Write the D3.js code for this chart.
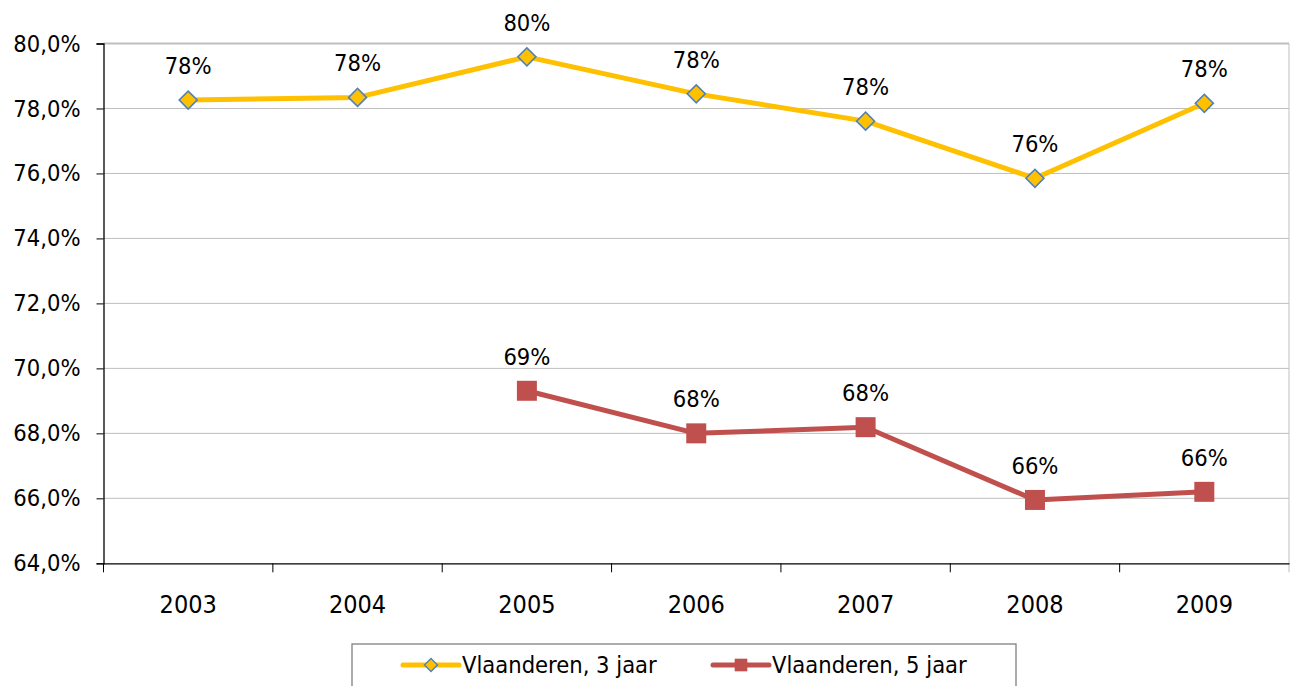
<!DOCTYPE html>
<html lang="nl">
<head>
    <meta charset="UTF-8" />
    <title>Vlaanderen, 3 en 5 jaar</title>
    <script src="https://d3js.org/d3.v7.min.js"></script>
    <style>
        body { margin: 0; background: #fff; }
        svg text { font-family: "DejaVu Sans Condensed", "DejaVu Sans", Verdana, sans-serif; font-stretch: condensed; fill: #000; }
    </style>
</head>
<body>
<svg id="chart" width="1290" height="686"></svg>
<script>
    // data
    const years = ["2003", "2004", "2005", "2006", "2007", "2008", "2009"];
    const drieJaar = [78.26, 78.34, 79.59, 78.45, 77.61, 75.85, 78.16];
    const vijfJaar = [null, null, 69.31, 68.00, 68.19, 65.95, 66.20];
    const yTicks = [64, 66, 68, 70, 72, 74, 76, 78, 80];
    const seriesNames = ["Vlaanderen, 3 jaar", "Vlaanderen, 5 jaar"];

    const plot = { left: 103.5, right: 1289, top: 43.5, bottom: 563.3 };
    const fontSize = 23.5;

    const svg = d3.select("#chart");
    const nl = d3.formatLocale({ decimal: ",", thousands: ".", grouping: [3], currency: ["€", ""] });

    const x = d3.scaleBand().domain(years).range([plot.left, plot.right]).padding(0);
    const y = d3.scaleLinear().domain([64, 80]).range([plot.bottom, plot.top]);
    const cx = d => x(d) + x.bandwidth() / 2;

    // gridlines
    svg.append("g")
        .selectAll("line")
        .data(yTicks.filter(t => t > 64))
        .join("line")
        .attr("x1", plot.left).attr("x2", plot.right)
        .attr("y1", d => y(d)).attr("y2", d => y(d))
        .attr("stroke", "#BFBFBF")
        .attr("stroke-width", d => d === 80 ? 2 : 1);

    // right border of plot area
    svg.append("line")
        .attr("x1", plot.right).attr("x2", plot.right)
        .attr("y1", plot.top).attr("y2", plot.bottom + 9)
        .attr("stroke", "#BFBFBF");

    // y axis
    const yAxis = svg.append("g")
        .attr("transform", `translate(${plot.left},0)`)
        .call(d3.axisLeft(y).tickValues(yTicks).tickSize(7).tickPadding(16).tickFormat(d => nl.format(".1f")(d) + "%"));
    yAxis.select(".domain").attr("stroke", "#000").attr("stroke-width", 1.3);
    yAxis.selectAll(".tick line").attr("stroke", "#000");
    yAxis.selectAll(".tick text").style("font-size", fontSize + "px").attr("font-family", null);

    // x axis
    const xAxis = svg.append("g")
        .attr("transform", `translate(0,${plot.bottom})`)
        .call(d3.axisBottom(x).tickSize(0).tickPadding(32));
    xAxis.select(".domain").attr("stroke", "#000").attr("stroke-width", 1.3);
    xAxis.selectAll(".tick text").style("font-size", "25px").attr("font-family", null);
    // tick marks between categories
    xAxis.selectAll(".sep")
        .data(years.slice(1))
        .join("line")
        .attr("class", "sep")
        .attr("x1", d => x(d)).attr("x2", d => x(d))
        .attr("y1", 0).attr("y2", 9)
        .attr("stroke", "#000");
    xAxis.append("line")
        .attr("x1", plot.left).attr("x2", plot.left)
        .attr("y1", 0).attr("y2", 9)
        .attr("stroke", "#000");

    const line = d3.line()
        .defined(d => d.v !== null)
        .x(d => cx(d.year))
        .y(d => y(d.v));

    const yellow = years.map((year, i) => ({ year, v: drieJaar[i] }));
    const red = years.map((year, i) => ({ year, v: vijfJaar[i] })).filter(d => d.v !== null);

    // lines
    svg.append("path").datum(yellow)
        .attr("d", line).attr("fill", "none")
        .attr("stroke", "#FFC000").attr("stroke-width", 5).attr("stroke-linejoin", "round");
    svg.append("path").datum(red)
        .attr("d", line).attr("fill", "none")
        .attr("stroke", "#C0504D").attr("stroke-width", 5).attr("stroke-linejoin", "round");

    const diamond = d3.symbol(d3.symbolSquare, 162)();
    const square = d3.symbol(d3.symbolSquare, 400)();

    svg.append("g").selectAll("path")
        .data(yellow)
        .join("path")
        .attr("d", diamond)
        .attr("transform", d => `translate(${cx(d.year)},${y(d.v)}) rotate(45)`)
        .attr("fill", "#FFC000").attr("stroke", "#4F81BD").attr("stroke-width", 1.6);

    svg.append("g").selectAll("path")
        .data(red)
        .join("path")
        .attr("d", square)
        .attr("transform", d => `translate(${cx(d.year)},${y(d.v)})`)
        .attr("fill", "#C0504D");

    // data labels
    svg.append("g").selectAll("text")
        .data(yellow.concat(red))
        .join("text")
        .attr("x", d => cx(d.year))
        .attr("y", d => y(d.v) - 34)
        .attr("text-anchor", "middle")
        .attr("dominant-baseline", "central")
        .style("font-size", fontSize + "px")
        .text(d => Math.round(d.v) + "%");

    // legend
    const legend = svg.append("g");
    legend.append("rect")
        .attr("x", 352).attr("y", 644)
        .attr("width", 664).attr("height", 60)
        .attr("fill", "#fff").attr("stroke", "#808080").attr("stroke-width", 1.3);

    const items = [
        { name: seriesNames[0], x: 403, color: "#FFC000", sym: d3.symbol(d3.symbolSquare, 85)(), rot: 45, stroke: "#4F81BD" },
        { name: seriesNames[1], x: 713, color: "#C0504D", sym: d3.symbol(d3.symbolSquare, 160)(), rot: 0, stroke: null }
    ];
    const li = legend.selectAll(".item")
        .data(items)
        .join("g")
        .attr("class", "item")
        .attr("transform", d => `translate(${d.x},665)`);
    li.append("line")
        .attr("x1", 0).attr("x2", 56)
        .attr("stroke", d => d.color).attr("stroke-width", 5).attr("stroke-linecap", "round");
    li.append("path")
        .attr("d", d => d.sym)
        .attr("transform", d => `translate(28,0) rotate(${d.rot})`)
        .attr("fill", d => d.color)
        .attr("stroke", d => d.stroke)
        .attr("stroke-width", 1.4);
    li.append("text")
        .attr("x", 59)
        .attr("dominant-baseline", "central")
        .style("font-size", fontSize + "px")
        .text(d => d.name);
</script>
</body>
</html>
